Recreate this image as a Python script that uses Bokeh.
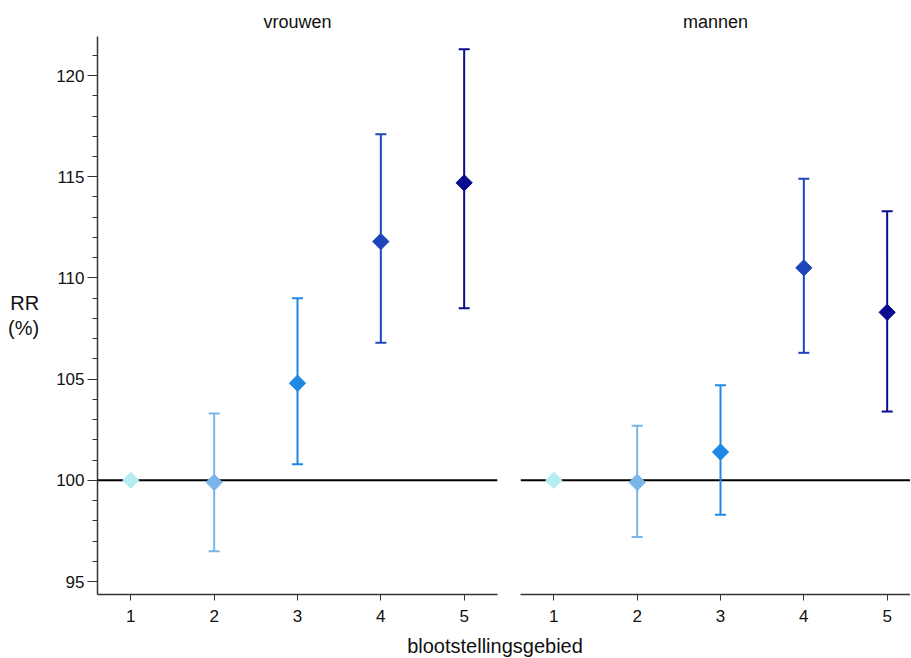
import numpy as np
from bokeh.plotting import figure
from bokeh.models import (ColumnDataSource, Whisker, TeeHead, Span, SingleIntervalTicker,
                          FixedTicker, Div, Range1d, Spacer)
from bokeh.layouts import row, column
from bokeh.core.properties import field
from bokeh.embed import file_html
from bokeh.resources import INLINE

# ---- data ----
areas = [1, 2, 3, 4, 5]
area_colors = ["#b4eef0", "#79b5e9", "#1e88e5", "#1f45bd", "#0b0b8e"]
women_rr = [100.0, 99.9, 104.8, 111.8, 114.7]
women_lo = [None, 96.5, 100.8, 106.8, 108.5]
women_hi = [None, 103.3, 109.0, 117.1, 121.3]
men_rr = [100.0, 99.9, 101.4, 110.5, 108.3]
men_lo = [None, 97.2, 98.3, 106.3, 103.4]
men_hi = [None, 102.7, 104.7, 114.9, 113.3]
panel_titles = ["vrouwen", "mannen"]
x_label = "blootstellingsgebied"
y_label = "RR\n(%)"
ref_value = 100

FONT = "Liberation Sans"
AX = "#333333"
y_range = Range1d(94.36, 121.93)


def make_panel(title, rr, lo, hi, first):
    common = dict(height=630, y_range=y_range, output_backend="svg", toolbar_location=None,
                  min_border_top=36, min_border_bottom=36, title=title)
    if first:
        p = figure(width=508, x_range=Range1d(0.6, 5.4), min_border_left=97,
                   min_border_right=11, **common)
    else:
        p = figure(width=402, x_range=Range1d(0.6, 5.28), y_axis_location=None,
                   min_border_left=12, min_border_right=0, **common)
    p.outline_line_color = None
    p.xgrid.visible = False
    p.ygrid.visible = False
    p.background_fill_color = "white"
    p.border_fill_color = "white"

    p.title.align = "center"
    p.title.text_font = FONT
    p.title.text_font_size = "18px"
    p.title.text_font_style = "normal"
    p.title.text_color = "#111111"
    p.title.standoff = 9

    xa = p.xaxis[0]
    xa.ticker = FixedTicker(ticks=areas)
    xa.axis_line_color = AX
    xa.axis_line_width = 1.5
    xa.major_tick_line_color = AX
    xa.major_tick_out = 6
    xa.major_tick_in = 0
    xa.minor_tick_line_color = None
    xa.major_label_text_font = FONT
    xa.major_label_text_font_size = "17px"
    xa.major_label_text_color = "#111111"
    xa.major_label_standoff = 9

    if first:
        ya = p.yaxis[0]
        ya.ticker = SingleIntervalTicker(interval=5, num_minor_ticks=5)
        ya.axis_line_color = AX
        ya.axis_line_width = 1.5
        ya.major_tick_line_color = AX
        ya.minor_tick_line_color = AX
        ya.major_tick_out = 10
        ya.major_tick_in = 0
        ya.minor_tick_out = 5
        ya.minor_tick_in = 0
        ya.major_label_text_font = FONT
        ya.major_label_text_font_size = "17px"
        ya.major_label_text_color = "#111111"
        ya.major_label_standoff = 3
        ya.axis_label = y_label
        ya.axis_label_orientation = "horizontal"
        ya.axis_label_text_font = FONT
        ya.axis_label_text_font_size = "20px"
        ya.axis_label_text_font_style = "normal"
        ya.axis_label_text_color = "#111111"
        ya.axis_label_text_line_height = 1.1
        ya.axis_label_standoff = 14

    p.add_layout(Span(location=ref_value, dimension="width", line_color="black",
                      line_width=2, level="underlay"))

    idx = [i for i in range(len(areas)) if lo[i] is not None]
    wsrc = ColumnDataSource(dict(x=[areas[i] for i in idx], lo=[lo[i] for i in idx],
                                 hi=[hi[i] for i in idx], color=[area_colors[i] for i in idx]))
    w = Whisker(base="x", lower="lo", upper="hi", source=wsrc, dimension="height",
                line_color=field("color"), line_width=2,
                upper_head=TeeHead(size=11, line_color=field("color"), line_width=2),
                lower_head=TeeHead(size=11, line_color=field("color"), line_width=2))
    p.add_layout(w)

    psrc = ColumnDataSource(dict(x=areas, rr=rr, color=area_colors))
    p.scatter(x="x", y="rr", source=psrc, marker="square", angle=np.pi / 4, size=11.5,
              fill_color="color", line_color="color")
    return p


p1 = make_panel(panel_titles[0], women_rr, women_lo, women_hi, True)
p2 = make_panel(panel_titles[1], men_rr, men_lo, men_hi, False)

xlab = Div(text=x_label, width=352, height=22,
           styles={"text-align": "center", "font-family": FONT, "font-size": "20px",
                   "line-height": "22px", "color": "#111111"})

layout = column(row(p1, p2), row(Spacer(width=314, height=22), xlab))

open("out.html", "w").write(file_html(layout, INLINE))
